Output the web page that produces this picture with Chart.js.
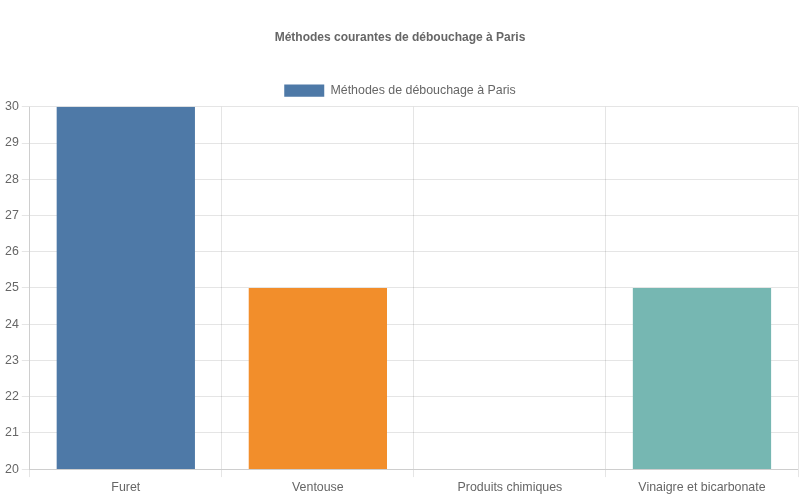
<!DOCTYPE html>
<html>
<head>
<meta charset="utf-8">
<script src="https://cdn.jsdelivr.net/npm/chart.js@4"></script>
<style>
html,body{margin:0;padding:0;background:#fff;}
#wrap{width:800px;height:500px;}
</style>
</head>
<body>
<div id="wrap"><canvas id="c"></canvas></div>
<script>
const categories = ["Furet", "Ventouse", "Produits chimiques", "Vinaigre et bicarbonate"];
const values = [30, 25, 20, 25];
const barColors = ["#4e79a7", "#f28e2b", "#e15759", "#76b7b2"];
const seriesLabel = "Méthodes de débouchage à Paris";
const chartTitle = "Méthodes courantes de débouchage à Paris";

Chart.defaults.font.family = "'Liberation Sans', Arial, Helvetica, sans-serif";
Chart.defaults.color = "#666";

new Chart(document.getElementById("c"), {
  type: "bar",
  data: {
    labels: categories,
    datasets: [{
      label: seriesLabel,
      data: values,
      backgroundColor: barColors,
      borderWidth: 0
    }]
  },
  options: {
    responsive: true,
    maintainAspectRatio: false,
    animation: false,
    layout: { padding: { left: 2, right: 2, bottom: 2 } },
    plugins: {
      title: {
        display: true,
        text: chartTitle,
        font: { size: 12, weight: "bold" },
        padding: { top: 30, bottom: 30 }
      },
      legend: {
        display: true,
        labels: { font: { size: 12.4 } }
      }
    },
    scales: {
      y: {
        min: 20,
        max: 30,
        ticks: { stepSize: 1, font: { size: 12.4 } }
      },
      x: {
        ticks: { font: { size: 12.4 } }
      }
    }
  }
});
</script>
</body>
</html>
